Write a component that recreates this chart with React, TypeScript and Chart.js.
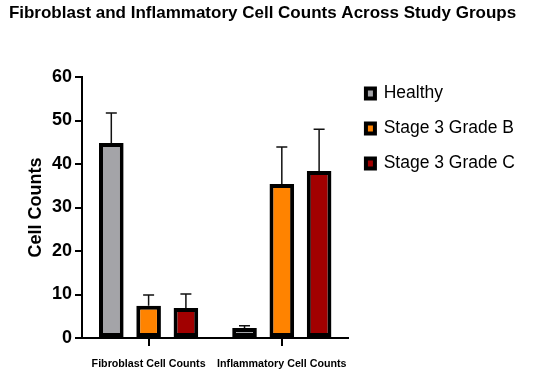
import React, { useEffect, useRef } from "react";
import { Chart, registerables } from "chart.js";

Chart.register(...registerables);

const categories = ["Fibroblast Cell Counts", "Inflammatory Cell Counts"];
const seriesNames = ["Healthy", "Stage 3 Grade B", "Stage 3 Grade C"];
const healthyValues = [44.8, 2.3];
const gradeBValues = [7.4, 35.4];
const gradeCValues = [6.9, 38.4];
const healthyErrors = [6.9, 0.5];
const gradeBErrors = [2.5, 8.5];
const gradeCErrors = [3.2, 9.6];
const seriesColors = ["#a4a4a8", "#ff8300", "#a10000"];
const yTicks = { min: 0, max: 60, step: 10 };

const FONT = "'Liberation Sans', Arial, Helvetica, sans-serif";

const errorBarPlugin = {
  id: "errorBars",
  afterDatasetsDraw(chart: any) {
    const { ctx } = chart;
    const yScale = chart.scales.y;
    chart.data.datasets.forEach((ds: any, di: number) => {
      const meta = chart.getDatasetMeta(di);
      if (meta.hidden) return;
      meta.data.forEach((bar: any, i: number) => {
        const v = ds.data[i];
        const e = ds.errors[i];
        const yTop = yScale.getPixelForValue(v + e);
        const yBase = yScale.getPixelForValue(v);
        ctx.save();
        ctx.strokeStyle = "#111";
        ctx.lineWidth = 1.5;
        ctx.beginPath();
        ctx.moveTo(bar.x, yBase);
        ctx.lineTo(bar.x, yTop);
        ctx.moveTo(bar.x - 5.5, yTop);
        ctx.lineTo(bar.x + 5.5, yTop);
        ctx.stroke();
        ctx.restore();
      });
    });
  },
};

export default function App() {
  const ref = useRef<HTMLCanvasElement>(null);
  useEffect(() => {
    document.body.style.margin = "0";
    const valuesList = [healthyValues, gradeBValues, gradeCValues];
    const errorsList = [healthyErrors, gradeBErrors, gradeCErrors];
    const chart = new Chart(ref.current!, {
      type: "bar",
      data: {
        labels: categories,
        datasets: seriesNames.map((name, i) => ({
          label: name,
          data: valuesList[i],
          errors: errorsList[i],
          backgroundColor: seriesColors[i],
          borderColor: "#000",
          borderWidth: 4,
          borderSkipped: false,
          categoryPercentage: 0.84,
          barPercentage: 0.66,
        })) as any,
      },
      options: {
        responsive: false,
        animation: false,
        layout: { padding: { left: 0, right: 25, top: 0, bottom: 0 } },
        plugins: {
          tooltip: { enabled: false },
          title: {
            display: true,
            text: "Fibroblast and Inflammatory Cell Counts Across Study Groups",
            color: "#000",
            font: { family: FONT, size: 17, weight: "bold" },
            padding: { top: 3, bottom: 53.6 },
          },
          legend: {
            position: "right",
            align: "start",
            fullSize: true,
            maxWidth: 220,
            title: {
              display: true,
              text: "",
              font: { family: FONT, size: 10 },
              padding: { top: 55.2, bottom: 0 },
            },
            labels: {
              color: "#000",
              font: { family: FONT, size: 17.5 },
              boxWidth: 9,
              boxHeight: 10,
              padding: 17.5,
            },
          },
        },
        scales: {
          x: {
            grid: {
              offset: false,
              drawOnChartArea: false,
              drawTicks: true,
              tickLength: 8,
              color: "#000",
              lineWidth: 2,
            },
            border: { color: "#000", width: 2 },
            ticks: {
              color: "#000",
              font: { family: FONT, size: 10.7, weight: "bold" },
              padding: 12,
              maxRotation: 0,
              autoSkip: false,
            },
            afterFit(scale: any) {
              scale.height = 35;
            },
          },
          y: {
            min: yTicks.min,
            max: yTicks.max,
            grid: {
              drawOnChartArea: false,
              drawTicks: true,
              tickLength: 7,
              color: "#000",
              lineWidth: 2,
            },
            border: { color: "#000", width: 2 },
            ticks: {
              stepSize: yTicks.step,
              color: "#000",
              font: { family: FONT, size: 18, weight: "bold" },
              padding: 3,
            },
            title: {
              display: true,
              text: "Cell Counts",
              color: "#000",
              font: { family: FONT, size: 18, weight: "bold" },
              padding: { top: 25, bottom: 0 },
            },
            afterFit(scale: any) {
              scale.width = 82;
            },
          },
        },
      },
      plugins: [errorBarPlugin],
    });
    return () => chart.destroy();
  }, []);
  return <canvas ref={ref} width={550} height={373} />;
}
